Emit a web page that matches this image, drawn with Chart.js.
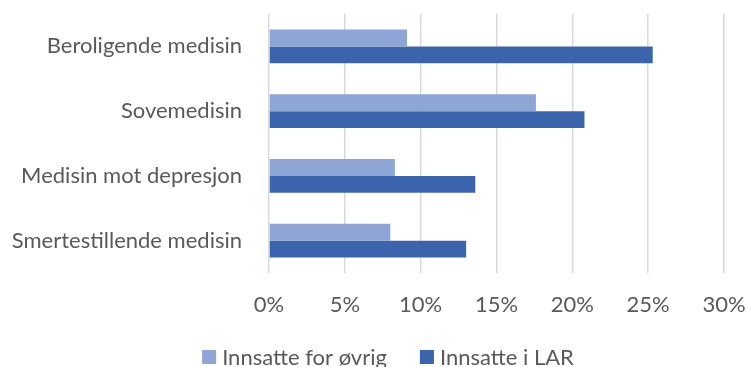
<!DOCTYPE html>
<html>
<head>
<meta charset="utf-8">
<script src="https://cdn.jsdelivr.net/npm/chart.js@4/dist/chart.umd.min.js"></script>
<style>
  html, body { margin: 0; padding: 0; background: #ffffff; }
  #wrap { width: 747px; height: 367px; position: relative; }
</style>
</head>
<body>
<div id="wrap"><canvas id="chart" width="747" height="367"></canvas></div>
<script>
// Share of inmates using each type of medication (percent)
const categories = [
  'Beroligende medisin',
  'Sovemedisin',
  'Medisin mot depresjon',
  'Smertestillende medisin'
];
const seriesNames = ['Innsatte for øvrig', 'Innsatte i LAR'];
const innsatteForOvrig = [9.1, 17.6, 8.3, 8.0];
const innsatteILAR = [25.3, 20.8, 13.6, 13.0];
const tickValues = [0, 5, 10, 15, 20, 25, 30];

const textColor = '#595959';
const fontFamily = 'Lato, "Open Sans", "DejaVu Sans", sans-serif';
const fontSize = 22;

// Legend drawn under the axis: square swatch, label, items in one row
const bottomLegend = {
  id: 'bottomLegend',
  afterDraw(chart) {
    const ctx = chart.ctx;
    const items = chart.data.datasets.map(ds => ({ text: ds.label, color: ds.backgroundColor }));
    const box = 14, gapText = 6, gapItem = 33, centerX = 388, centerY = 357;
    ctx.save();
    ctx.font = fontSize + 'px ' + fontFamily;
    ctx.textBaseline = 'middle';
    ctx.textAlign = 'left';
    const widths = items.map(it => box + gapText + ctx.measureText(it.text).width);
    const total = widths.reduce((a, b) => a + b, 0) + gapItem * (items.length - 1);
    let x = centerX - total / 2;
    items.forEach((it, i) => {
      ctx.fillStyle = it.color;
      ctx.fillRect(x, centerY - box / 2, box, box);
      ctx.fillStyle = textColor;
      ctx.fillText(it.text, x + box + gapText, centerY + 1);
      x += widths[i] + gapItem;
    });
    ctx.restore();
  }
};

new Chart(document.getElementById('chart'), {
  type: 'bar',
  data: {
    labels: categories,
    datasets: [
      {
        label: seriesNames[0],
        data: innsatteForOvrig,
        backgroundColor: '#8FA5D5',
        borderWidth: 0
      },
      {
        label: seriesNames[1],
        data: innsatteILAR,
        backgroundColor: '#3C64AC',
        borderWidth: 0
      }
    ]
  },
  plugins: [bottomLegend],
  options: {
    indexAxis: 'y',
    responsive: false,
    animation: false,
    devicePixelRatio: 1,
    layout: { padding: { top: 14, right: 23, left: 0, bottom: 22 } },
    categoryPercentage: 0.525,
    barPercentage: 1.0,
    plugins: {
      tooltip: { enabled: false },
      legend: { display: false }
    },
    scales: {
      x: {
        min: tickValues[0],
        max: tickValues[tickValues.length - 1],
        afterBuildTicks: (scale) => {
          scale.ticks = tickValues.map(v => ({ value: v }));
        },
        afterFit: (scale) => {
          scale.height = 72;
          scale.paddingLeft = 0;
          scale.paddingRight = 0;
        },
        grid: {
          color: '#D9D9D9',
          lineWidth: 1.5,
          drawTicks: false
        },
        border: { display: false },
        ticks: {
          color: textColor,
          padding: 19,
          font: { family: fontFamily, size: fontSize },
          callback: (v) => v + '%'
        }
      },
      y: {
        afterFit: (scale) => {
          scale.width = 269;
          scale.paddingTop = 0;
          scale.paddingBottom = 0;
        },
        grid: { display: false, drawTicks: false },
        border: { display: false },
        ticks: {
          color: textColor,
          padding: 27,
          font: { family: fontFamily, size: fontSize }
        }
      }
    }
  }
});
</script>
</body>
</html>
